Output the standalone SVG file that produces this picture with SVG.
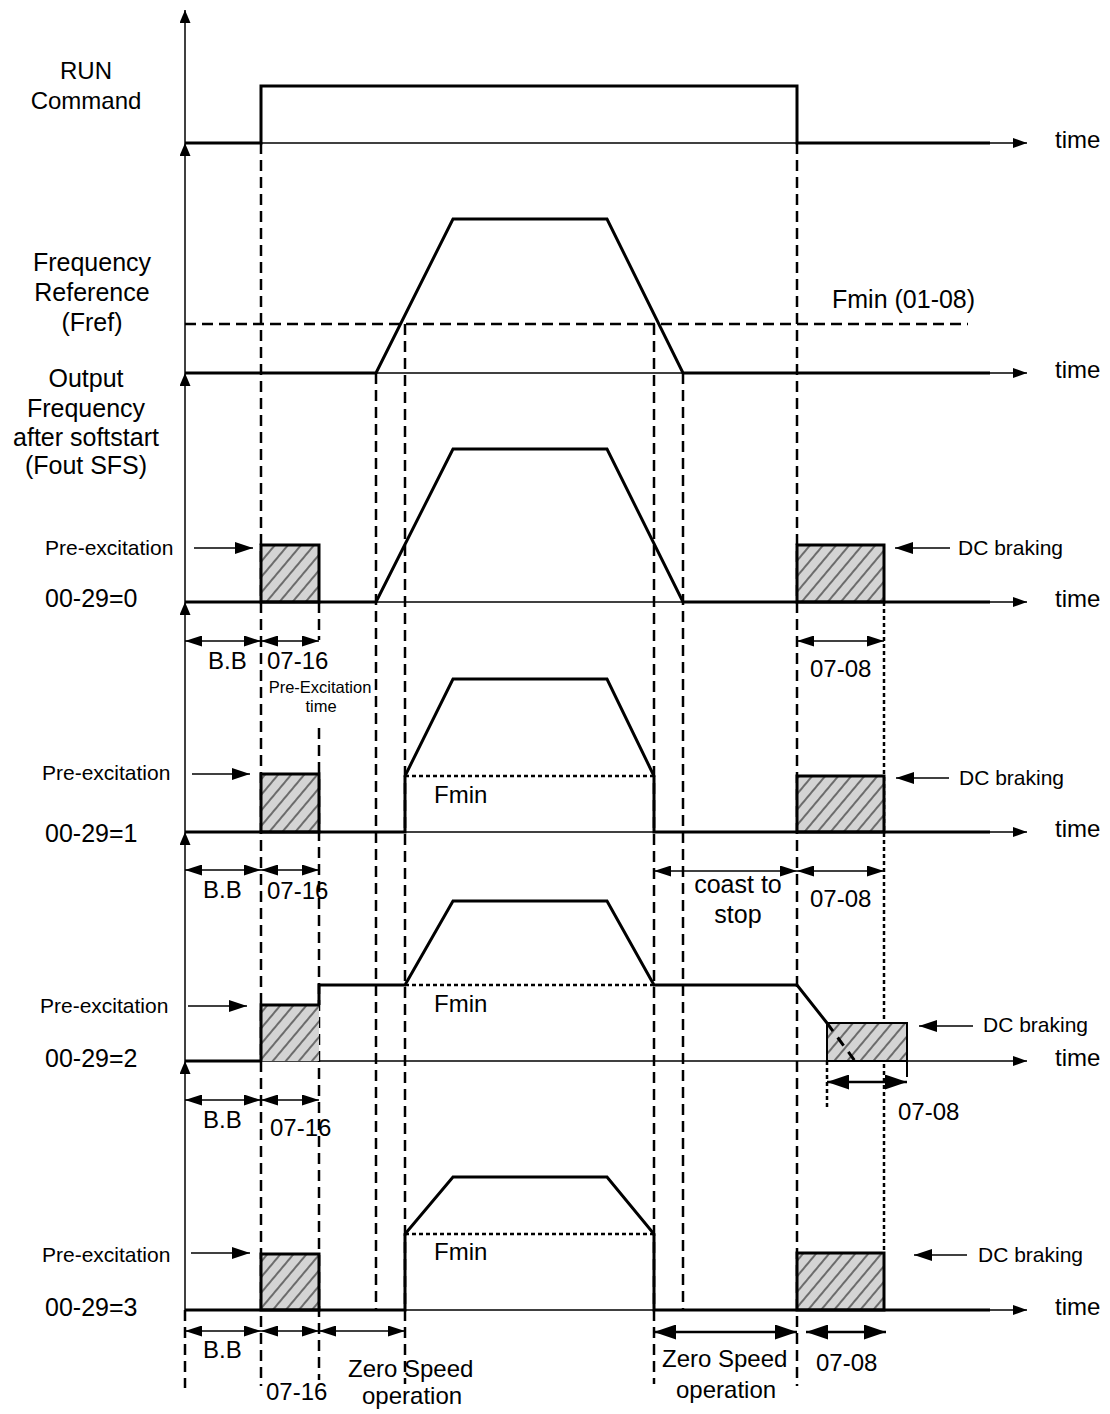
<svg xmlns="http://www.w3.org/2000/svg" width="1110" height="1414" viewBox="0 0 1110 1414">
<defs>
<style>
.sig{fill:none;stroke:#000;stroke-width:3;stroke-linejoin:miter}
.tax{fill:none;stroke:#000;stroke-width:1.5;marker-end:url(#ta)}
.vax{fill:none;stroke:#000;stroke-width:1.5;marker-end:url(#va)}
.dash{fill:none;stroke:#000;stroke-width:2.5;stroke-dasharray:11 6}
.dot{fill:none;stroke:#000;stroke-width:2.5;stroke-dasharray:4 3}
.dim{fill:none;stroke:#000;stroke-width:1.5;marker-start:url(#da);marker-end:url(#da)}
.dimb{fill:none;stroke:#000;stroke-width:2.5;marker-start:url(#db);marker-end:url(#db)}
.lab{fill:none;stroke:#000;stroke-width:1.5;marker-end:url(#pa)}
.box{fill:url(#hatch);stroke:#000;stroke-width:3}
text{font-family:"Liberation Sans",Arial,sans-serif;fill:#000}
.t25{font-size:25px}
.t24{font-size:24px}
.t21{font-size:21px}
.t16{font-size:16.5px}
.mid{text-anchor:middle}
</style>
<marker id="ta" markerUnits="userSpaceOnUse" markerWidth="14" markerHeight="10" viewBox="0 0 14 10" refX="14" refY="5" orient="auto"><path d="M0,0L14,5L0,10z"/></marker>
<marker id="va" markerUnits="userSpaceOnUse" markerWidth="13" markerHeight="11" viewBox="0 0 13 11" refX="13" refY="5.5" orient="auto"><path d="M0,0L13,5.5L0,11z"/></marker>
<marker id="da" markerUnits="userSpaceOnUse" markerWidth="17" markerHeight="11" viewBox="0 0 17 11" refX="17" refY="5.5" orient="auto-start-reverse"><path d="M0,0L17,5.5L0,11z"/></marker>
<marker id="db" markerUnits="userSpaceOnUse" markerWidth="22" markerHeight="15" viewBox="0 0 22 15" refX="22" refY="7.5" orient="auto-start-reverse"><path d="M0,0L22,7.5L0,15z"/></marker>
<marker id="pa" markerUnits="userSpaceOnUse" markerWidth="18" markerHeight="12" viewBox="0 0 18 12" refX="18" refY="6" orient="auto"><path d="M0,0L18,6L0,12z"/></marker>
<pattern id="hatch" patternUnits="userSpaceOnUse" width="10" height="10" patternTransform="rotate(40)"><rect width="10" height="10" fill="#d4d4d4"/><line x1="1" y1="0" x2="1" y2="10" stroke="#333" stroke-width="1.3"/></pattern>
</defs>
<rect width="1110" height="1414" fill="#fff"/>

<g id="guides">
<path class="dash" d="M261,143V1386M319,602V640M319,728V1380M376,373V1310M405,324V1384M654,324V1384M683,373V1310M797,143V1386M185,1310V1388M185,324H968"/>
<path class="dot" d="M884,602V1253M827,1061V1110M405,776H654M405,985H654M405,1234H654"/>
</g>

<g id="axes">
<path class="tax" d="M185,143H1027"/>
<path class="tax" d="M185,373H1027"/>
<path class="tax" d="M185,602H1027"/>
<path class="tax" d="M185,832H1027"/>
<path class="tax" d="M185,1061H1027"/>
<path class="tax" d="M185,1310H1027"/>
<path class="vax" d="M185,143V10"/>
<path class="vax" d="M185,373V143"/>
<path class="vax" d="M185,602V373"/>
<path class="vax" d="M185,832V602"/>
<path class="vax" d="M185,1061V832"/>
<path class="vax" d="M185,1310V1061"/>
</g>

<g id="boxes">
<rect class="box" x="261" y="545" width="58" height="57"/>
<rect class="box" x="797" y="545" width="87" height="57"/>
<rect class="box" x="261" y="774" width="58" height="58"/>
<rect class="box" x="797" y="776" width="87" height="56"/>
<rect x="261" y="1005" width="58" height="56" fill="url(#hatch)"/>
<path class="sig" d="M261,1061V1005H319"/>
<rect x="827" y="1023" width="80" height="38" fill="url(#hatch)" stroke="#000" stroke-width="2"/>
<rect class="box" x="261" y="1254" width="58" height="56"/>
<rect class="box" x="797" y="1253" width="87" height="57"/>
</g>

<g id="signals">
<path class="sig" d="M185,143H261V86H797V143H990"/>
<path class="sig" d="M185,373H376L453,219H607L683,373H990"/>
<path class="sig" d="M185,602H376L453,449H607L683,602H990"/>
<path class="sig" d="M185,832H405V776L453,679H607L654,776V832H990"/>
<path class="sig" d="M185,1061H261M319,1005V985H405L453,901H607L654,985H797L827,1023"/>
<path fill="none" stroke="#000" stroke-width="3" stroke-dasharray="10 8" d="M827,1023L855,1061"/>
<path fill="none" stroke="#000" stroke-width="2" d="M907,1061V1077"/>
<path class="sig" d="M185,1310H405V1234L453,1177H607L654,1234V1310H990"/>
</g>

<g id="connectors">
<path class="dim" d="M185,641H261"/>
<path class="dim" d="M261,641H319"/>
<path class="dim" d="M797,641H884"/>
<path class="dim" d="M185,870H261"/>
<path class="dim" d="M261,870H319"/>
<path class="dim" d="M654,871H797"/>
<path class="dim" d="M797,871H884"/>
<path class="dim" d="M185,1100H261"/>
<path class="dim" d="M261,1100H319"/>
<path class="dimb" d="M827,1082H907"/>
<path class="dim" d="M185,1331H261"/>
<path class="dim" d="M261,1331H319"/>
<path class="dim" d="M319,1331H405"/>
<path class="dimb" d="M654,1332H797"/>
<path class="dimb" d="M806,1332H886"/>
<path class="lab" d="M194,548H253"/>
<path class="lab" d="M192,774H250"/>
<path class="lab" d="M188,1006H247"/>
<path class="lab" d="M191,1253H250"/>
<path class="lab" d="M950,548H895"/>
<path class="lab" d="M949,778H896"/>
<path class="lab" d="M973,1026H919"/>
<path class="lab" d="M967,1255H914"/>
</g>

<g id="labels">
<text class="t24 mid" x="86" y="79">RUN</text>
<text class="t24 mid" x="86" y="109">Command</text>
<text class="t25 mid" x="92" y="271">Frequency</text>
<text class="t25 mid" x="92" y="301">Reference</text>
<text class="t25 mid" x="92" y="331">(Fref)</text>
<text class="t25 mid" x="86" y="387">Output</text>
<text class="t25 mid" x="86" y="417">Frequency</text>
<text class="t25 mid" x="86" y="446">after softstart</text>
<text class="t25 mid" x="86" y="474">(Fout SFS)</text>
<text class="t25" x="832" y="308">Fmin (01-08)</text>
<text class="t24" x="1055" y="148">time</text>
<text class="t24" x="1055" y="378">time</text>
<text class="t24" x="1055" y="607">time</text>
<text class="t24" x="1055" y="837">time</text>
<text class="t24" x="1055" y="1066">time</text>
<text class="t24" x="1055" y="1315">time</text>
<text class="t21" x="45" y="555">Pre-excitation</text>
<text class="t21" x="42" y="780">Pre-excitation</text>
<text class="t21" x="40" y="1013">Pre-excitation</text>
<text class="t21" x="42" y="1262">Pre-excitation</text>
<text class="t25" x="45" y="607">00-29=0</text>
<text class="t25" x="45" y="842">00-29=1</text>
<text class="t25" x="45" y="1067">00-29=2</text>
<text class="t25" x="45" y="1316">00-29=3</text>
<text class="t21" x="958" y="555">DC braking</text>
<text class="t21" x="959" y="785">DC braking</text>
<text class="t21" x="983" y="1032">DC braking</text>
<text class="t21" x="978" y="1262">DC braking</text>
<text class="t24" x="208" y="669">B.B</text>
<text class="t24" x="267" y="669">07-16</text>
<text class="t16 mid" x="320" y="693">Pre-Excitation</text>
<text class="t16 mid" x="321" y="712">time</text>
<text class="t24" x="810" y="677">07-08</text>
<text class="t24" x="203" y="898">B.B</text>
<text class="t24" x="267" y="899">07-16</text>
<text class="t25 mid" x="738" y="893">coast to</text>
<text class="t25 mid" x="738" y="923">stop</text>
<text class="t24" x="810" y="907">07-08</text>
<text class="t24" x="203" y="1128">B.B</text>
<text class="t24" x="270" y="1136">07-16</text>
<text class="t24" x="898" y="1120">07-08</text>
<text class="t24" x="203" y="1358">B.B</text>
<text class="t24" x="266" y="1400">07-16</text>
<text class="t24" x="348" y="1377">Zero Speed</text>
<text class="t24" x="362" y="1404">operation</text>
<text class="t24" x="662" y="1367">Zero Speed</text>
<text class="t24" x="676" y="1398">operation</text>
<text class="t24" x="816" y="1371">07-08</text>
<text class="t24" x="434" y="803">Fmin</text>
<text class="t24" x="434" y="1012">Fmin</text>
<text class="t24" x="434" y="1260">Fmin</text>
</g>
</svg>
